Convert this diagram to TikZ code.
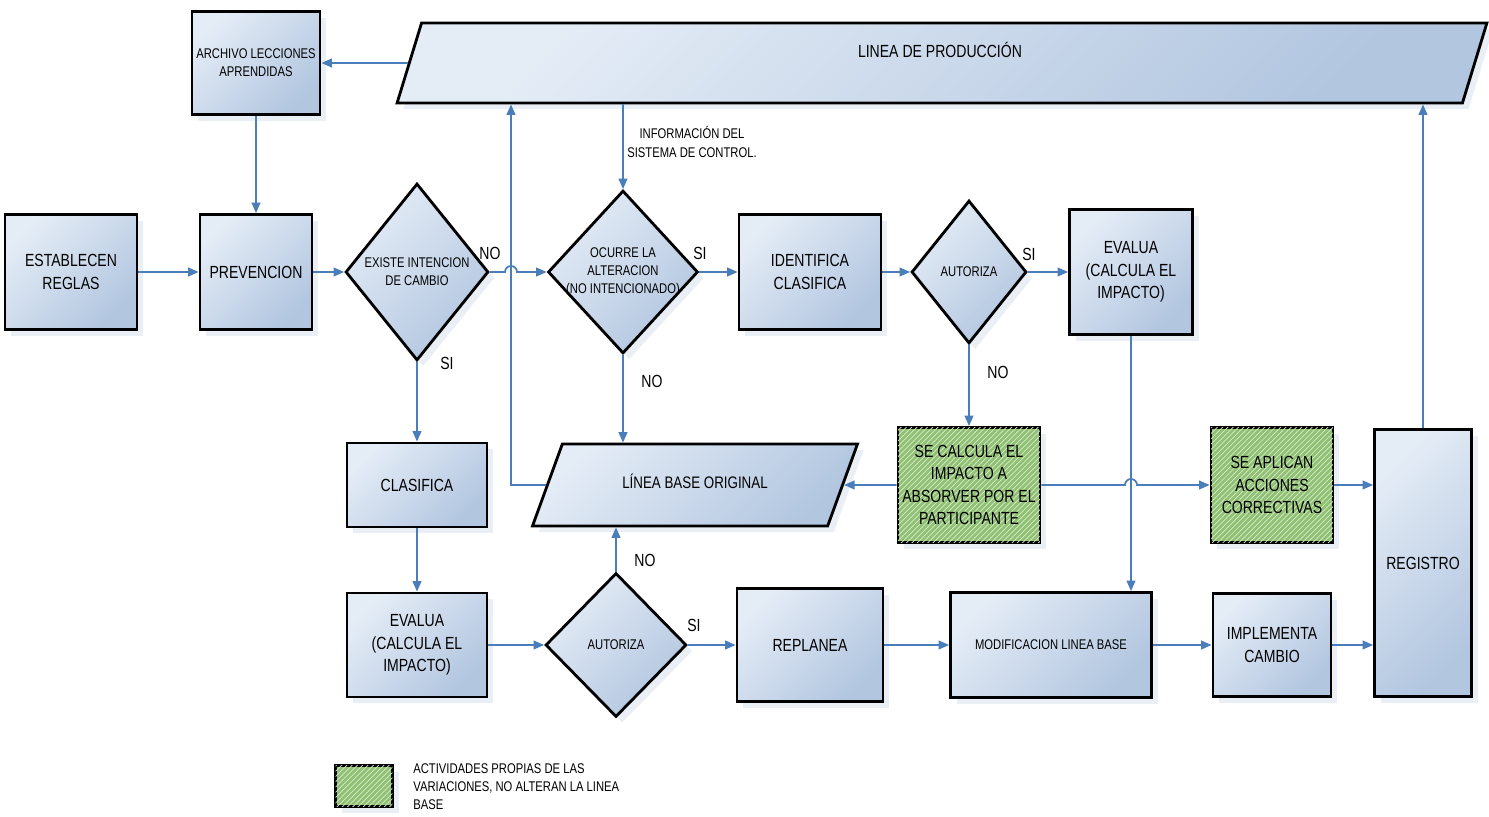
\documentclass[tikz,border=0pt]{standalone}
\usepackage{fontspec}
\setmainfont{Liberation Sans}[FakeStretch=0.8]
\usetikzlibrary{arrows.meta, shapes.geometric, shadows, patterns, calc}

\definecolor{boxlight}{HTML}{E4ECF6}
\definecolor{boxdark}{HTML}{B2C6E0}
\definecolor{arrowblue}{HTML}{4A7EBB}
\definecolor{shadowblue}{HTML}{D6E1EF}
\definecolor{hatchgreen}{HTML}{8FC073}
\definecolor{hatchlight}{HTML}{D8ECCB}

\begin{document}
\begin{tikzpicture}[x=0.02cm, y=-0.02cm,
  % estilos de las figuras
  base/.style={draw, line width=1.6pt, align=center, inner sep=2pt,
    drop shadow={shadow xshift=3.5pt, shadow yshift=-3.5pt, fill=shadowblue},
    font=\fontsize{10}{12.8}\selectfont},
  caja/.style={base, top color=boxlight, bottom color=boxdark, shading angle=45},
  actividad/.style={base, fill=hatchgreen, postaction={pattern=north east lines, pattern color=hatchlight}},
  decision/.style={caja, diamond, inner sep=0pt},
  datos/.style={caja, trapezium, trapezium stretches body=true, text height=6pt, text depth=2pt},
  dtexto/.style={align=center, inner sep=0pt, font=\fontsize{8}{10.2}\selectfont},
  etiqueta/.style={inner sep=0pt, font=\fontsize{10}{12}\selectfont},
  nota/.style={align=center, inner sep=0pt, font=\fontsize{8}{10.8}\selectfont},
  flecha/.style={draw=arrowblue, line width=1pt, -{Triangle[length=6pt, width=5pt]}}
]

\path[use as bounding box, fill=white] (0,0) rectangle (1489,817);

% Fila superior: linea de produccion
\node[caja, minimum width=2.56cm, minimum height=2.06cm, font=\fontsize{8}{10.2}\selectfont] (archivo) at (256,63) {ARCHIVO LECCIONES\\APRENDIDAS};
\node[datos, trapezium left angle=73, trapezium right angle=107, minimum width=21.8cm, inner ysep=18.75pt] (produccion) at (942,63) {};
\node[etiqueta] (produccion txt) at (940,50) {LINEA DE PRODUCCIÓN};
\node[nota] (info) at (692,142) {INFORMACIÓN DEL\\SISTEMA DE CONTROL.};

% Fila media: deteccion del cambio
\node[caja, minimum width=2.64cm, minimum height=2.3cm] (reglas) at (71,272) {ESTABLECEN\\REGLAS};
\node[caja, minimum width=2.24cm, minimum height=2.3cm] (prevencion) at (256,272) {PREVENCION};
\node[decision, minimum width=2.86cm, minimum height=3.54cm, label={[dtexto]center:EXISTE INTENCION\\DE CAMBIO}] (existe) at (417,272) {};
\node[decision, minimum width=3cm, minimum height=3.26cm, label={[dtexto]center:OCURRE LA\\ALTERACION\\(NO INTENCIONADO)}] (ocurre) at (623,272) {};
\node[caja, minimum width=2.84cm, minimum height=2.3cm] (identifica) at (810,272) {IDENTIFICA\\CLASIFICA};
\node[decision, minimum width=2.3cm, minimum height=2.86cm, label={[dtexto]center:AUTORIZA}] (autoriza1) at (969,272) {};
\node[caja, minimum width=2.46cm, minimum height=2.5cm] (evalua1) at (1131,272) {EVALUA\\(CALCULA EL\\IMPACTO)};

% Fila de la linea base
\node[caja, minimum width=2.8cm, minimum height=1.68cm] (clasifica) at (417,485) {CLASIFICA};
\node[datos, trapezium left angle=70, trapezium right angle=110, minimum width=6.5cm, inner ysep=19.3pt, font=\fontsize{9.5}{12}\selectfont] (lineabase) at (695,485) {LÍNEA BASE ORIGINAL};
\node[actividad, minimum width=2.84cm, minimum height=2.3cm] (calcula) at (969,485) {SE CALCULA EL\\IMPACTO A\\ABSORVER POR EL\\PARTICIPANTE};
\node[actividad, minimum width=2.44cm, minimum height=2.3cm] (correctivas) at (1272,485) {SE APLICAN\\ACCIONES\\CORRECTIVAS};
\node[caja, minimum width=1.94cm, minimum height=5.34cm] (registro) at (1423,563) {REGISTRO};

% Fila inferior: cambio intencional
\node[caja, minimum width=2.8cm, minimum height=2.08cm] (evalua2) at (417,645) {EVALUA\\(CALCULA EL\\IMPACTO)};
\node[decision, minimum width=2.82cm, minimum height=2.88cm, label={[dtexto]center:AUTORIZA}] (autoriza2) at (616,645) {};
\node[caja, minimum width=2.92cm, minimum height=2.26cm] (replanea) at (810,645) {REPLANEA};
\node[caja, minimum width=4.02cm, minimum height=2.1cm, font=\fontsize{8}{10}\selectfont] (modificacion) at (1051,645) {MODIFICACION LINEA BASE};
\node[caja, minimum width=2.36cm, minimum height=2.06cm] (implementa) at (1272,645) {IMPLEMENTA\\CAMBIO};

% Leyenda
\node[actividad, minimum width=1.14cm, minimum height=0.82cm] (leyenda) at (364,786) {};
\node[anchor=north west, align=left, inner sep=0pt, font=\fontsize{8}{10.2}\selectfont] (leyenda txt) at (413,763) {ACTIVIDADES PROPIAS DE LAS\\VARIACIONES, NO ALTERAN LA LINEA\\BASE};

% Etiquetas SI / NO
\node[etiqueta] (no1) at (490,253) {NO};
\node[etiqueta] (si1) at (447,363) {SI};
\node[etiqueta] (si2) at (700,253) {SI};
\node[etiqueta] (no2) at (652,381) {NO};
\node[etiqueta] (si3) at (1029,254) {SI};
\node[etiqueta] (no3) at (998,372) {NO};
\node[etiqueta] (no4) at (645,560) {NO};
\node[etiqueta] (si4) at (694,625) {SI};

% Conexiones
\coordinate (retorno) at (511,485);

\draw[flecha] (produccion.west) -- (archivo.east);
\draw[flecha] (archivo) -- (prevencion);
\draw[flecha] (reglas) -- (prevencion);
\draw[flecha] (prevencion) -- (existe);
\draw[flecha] (existe.east) -- ($(existe.east -| retorno)+(-6,0)$) arc[start angle=180, end angle=360, radius=6] -- (ocurre.west);
\draw[flecha] (produccion.south -| ocurre.north) -- (ocurre.north);
\draw[flecha] (ocurre) -- (identifica);
\draw[flecha] (ocurre.south) -- (ocurre.south |- lineabase.north);
\draw[flecha] (identifica) -- (autoriza1);
\draw[flecha] (autoriza1) -- (evalua1);
\draw[flecha] (autoriza1) -- (calcula);
\draw[flecha] (evalua1.south) -- (evalua1.south |- modificacion.north);
\draw[flecha] (lineabase.west) -- (retorno) -- (retorno |- produccion.south);

\draw[flecha] (existe) -- (clasifica);
\draw[flecha] (clasifica) -- (evalua2);
\draw[flecha] (evalua2) -- (autoriza2);
\draw[flecha] (autoriza2) -- (replanea);
\draw[flecha] (autoriza2.north) -- (autoriza2.north |- lineabase.south);
\draw[flecha] (replanea) -- (modificacion);
\draw[flecha] (modificacion) -- (implementa);
\draw[flecha] (implementa.east) -- (implementa.east -| registro.west);

\draw[flecha] (calcula.west) -- (lineabase.east);
\draw[flecha] (calcula.east) -- ($(calcula.east -| evalua1.south)+(-6,0)$) arc[start angle=180, end angle=360, radius=6] -- (correctivas.west);
\draw[flecha] (correctivas.east) -- (correctivas.east -| registro.west);
\draw[flecha] (registro.north) -- (registro.north |- produccion.south);

\end{tikzpicture}
\end{document}
